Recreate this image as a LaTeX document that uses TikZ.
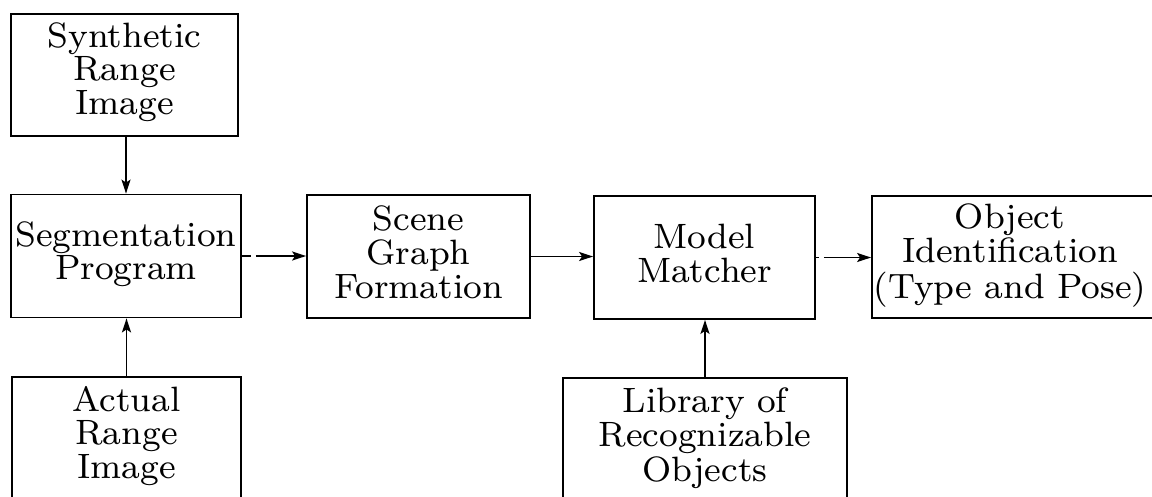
\documentclass[tikz,border=0pt]{standalone}
\usetikzlibrary{arrows.meta}
\newcommand{\boxtext}[1]{\scalebox{4.4}{\fontsize{8}{7.5}\selectfont\begin{tabular}[t]{@{}c@{}}#1\end{tabular}}}
\begin{document}
\begin{tikzpicture}[x=1pt,y=-1pt,
  blockbox/.style={draw, line width=1.8pt, rectangle, inner sep=0pt},
  boxlabel/.style={anchor=base, inner sep=0pt},
  arr/.style={line width=1.8pt, -{Stealth[length=14pt,width=9pt,inset=3pt]}}]
\useasboundingbox (0,0) rectangle (1152,496);
% boxes
\node[blockbox, minimum width=227pt, minimum height=122pt] (syn) at (124.5,75) {};
\node[blockbox, minimum width=230pt, minimum height=123pt] (seg) at (126,256) {};
\node[blockbox, minimum width=229pt, minimum height=143pt] (act) at (126.5,448.5) {};
\node[blockbox, minimum width=223pt, minimum height=123pt] (scene) at (418.5,256.5) {};
\node[blockbox, minimum width=221pt, minimum height=123pt] (model) at (704.5,257.5) {};
\node[blockbox, minimum width=284pt, minimum height=122pt] (obj) at (1014,257) {};
\node[blockbox, minimum width=284pt, minimum height=142pt] (lib) at (705,449) {};
% texts
\node[boxlabel] (synT) at (124.5,47) {\boxtext{Synthetic\\Range\\Image}};
\node[boxlabel] (segT) at (126,246) {\boxtext{Segmentation\\Program}};
\node[boxlabel] (actT) at (126.5,411) {\boxtext{Actual\\Range\\Image}};
\node[boxlabel] (sceneT) at (418.5,230) {\boxtext{Scene\\Graph\\Formation}};
\node[boxlabel] (modelT) at (704.5,248) {\boxtext{Model\\Matcher}};
\node[boxlabel] (objT) at (1010,228) {\boxtext{Object\\Identification\\(Type and Pose)}};
\node[boxlabel] (libT) at (705,412) {\boxtext{Library of\\Recognizable\\Objects}};
% connectors
\draw[arr] (syn.south -| seg.north) -- (seg.north);
\draw[arr] (act.north) -- (act.north |- seg.south);
\draw[arr, dash pattern=on 9pt off 5pt on 200pt] (seg.east) -- (seg.east -| scene.west);
\draw[arr] (scene.east) -- (scene.east -| model.west);
\draw[arr, dash pattern=on 3pt off 5pt on 200pt] (model.east) -- (model.east -| obj.west);
\draw[arr] (lib.north) -- (lib.north |- model.south);
\end{tikzpicture}
\end{document}
